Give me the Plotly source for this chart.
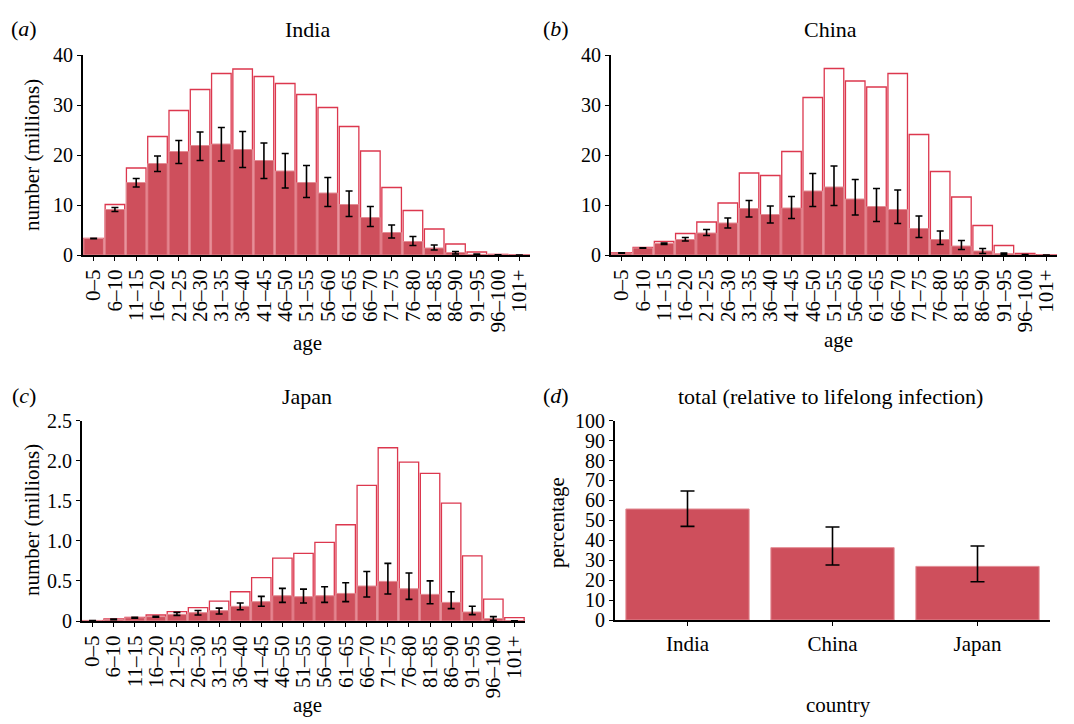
import plotly.graph_objects as go

ages = ["0–5", "6–10", "11–15", "16–20", "21–25", "26–30", "31–35", "36–40", "41–45",
        "46–50", "51–55", "56–60", "61–65", "66–70", "71–75", "76–80", "81–85", "86–90",
        "91–95", "96–100", "101+"]

# lifelong infection (outline bars), millions
india_life = [3.3, 10.1, 17.4, 23.7, 28.9, 33.1, 36.3, 37.2, 35.7, 34.3, 32.1, 29.5, 25.7,
              20.8, 13.5, 8.9, 5.2, 2.2, 0.6, 0.13, 0.03]
india_val = [3.3, 9.1, 14.5, 18.3, 20.7, 21.9, 22.2, 21.1, 18.9, 16.8, 14.5, 12.4, 10.1,
             7.5, 4.5, 2.7, 1.4, 0.5, 0.13, 0.03, 0.0]
india_hi = [3.35, 9.5, 15.3, 19.8, 22.9, 24.6, 25.5, 24.7, 22.4, 20.3, 17.9, 15.5, 12.8,
            9.7, 6.0, 3.7, 2.0, 0.7, 0.18, 0.04, 0.0]
india_lo = [3.25, 8.7, 13.6, 16.7, 18.3, 18.9, 18.8, 17.5, 15.3, 13.4, 11.5, 9.7, 7.7,
            5.7, 3.4, 1.9, 1.0, 0.2, 0.08, 0.02, 0.0]

china_life = [0.47, 1.5, 2.7, 4.3, 6.6, 10.4, 16.4, 15.9, 20.7, 31.5, 37.3, 34.8, 33.6,
              36.3, 24.1, 16.7, 11.6, 5.9, 1.9, 0.33, 0.05]
china_val = [0.4, 1.4, 2.3, 3.1, 4.4, 6.4, 9.3, 8.1, 9.4, 12.8, 13.6, 11.2, 9.7,
             9.1, 5.3, 3.1, 1.8, 0.8, 0.27, 0.05, 0.0]
china_hi = [0.45, 1.45, 2.4, 3.5, 5.1, 7.4, 10.9, 9.8, 11.7, 16.3, 17.8, 15.1, 13.3,
            13.0, 7.8, 4.8, 2.9, 1.3, 0.4, 0.07, 0.0]
china_lo = [0.35, 1.35, 2.1, 2.8, 3.9, 5.4, 7.6, 6.4, 7.3, 9.7, 9.9, 8.0, 6.7,
            6.3, 3.5, 2.1, 1.1, 0.3, 0.12, 0.03, 0.0]

japan_life = [0.005, 0.025, 0.045, 0.075, 0.116, 0.166, 0.249, 0.365, 0.54, 0.784, 0.842,
              0.98, 1.2, 1.69, 2.16, 1.98, 1.84, 1.47, 0.813, 0.274, 0.041]
japan_val = [0.004, 0.02, 0.04, 0.054, 0.083, 0.104, 0.129, 0.183, 0.241, 0.315, 0.303,
             0.315, 0.344, 0.436, 0.494, 0.402, 0.332, 0.232, 0.112, 0.029, 0.003]
japan_hi = [0.005, 0.025, 0.045, 0.06, 0.108, 0.13, 0.16, 0.224, 0.307, 0.407, 0.398,
            0.427, 0.477, 0.618, 0.718, 0.598, 0.50, 0.365, 0.183, 0.054, 0.004]
japan_lo = [0.003, 0.015, 0.035, 0.048, 0.07, 0.075, 0.087, 0.141, 0.183, 0.232, 0.224,
            0.232, 0.241, 0.299, 0.336, 0.27, 0.216, 0.154, 0.079, 0.008, 0.002]

countries = ["India", "China", "Japan"]
total_pct = [55.7, 36.3, 26.9]
total_hi = [64.7, 46.7, 37.1]
total_lo = [47.0, 27.6, 19.2]

FILL = "rgb(206,79,92)"
EDGE = "rgb(226,140,148)"
OUTLINE = "rgb(220,55,78)"
FONT = "Liberation Serif"

W, H = 1074, 724
OFF = 8  # page body margin


def px_x(x0, x1):
    return [(x0 - OFF) / W, (x1 - OFF) / W]


def px_y(top, bottom):
    return [1 - (bottom - OFF) / H, 1 - (top - OFF) / H]


fig = go.Figure()

panels = [
    ("x", "y", india_life, india_val, india_hi, india_lo),
    ("x2", "y2", china_life, china_val, china_hi, china_lo),
    ("x3", "y3", japan_life, japan_val, japan_hi, japan_lo),
]

for xa, ya, life, val, hi, lo in panels:
    fig.add_trace(go.Bar(x=ages, y=life, xaxis=xa, yaxis=ya, width=0.92,
                         marker=dict(color="white", line=dict(color=OUTLINE, width=1.3)),
                         showlegend=False, hoverinfo="skip"))
    fig.add_trace(go.Bar(x=ages, y=val, xaxis=xa, yaxis=ya, width=0.92,
                         marker=dict(color=FILL, line=dict(color=EDGE, width=1)),
                         error_y=dict(type="data", symmetric=False,
                                      array=[h - v for h, v in zip(hi, val)],
                                      arrayminus=[v - l for v, l in zip(val, lo)],
                                      color="black", thickness=1.6, width=3.5),
                         showlegend=False))

fig.add_trace(go.Bar(x=countries, y=total_pct, xaxis="x4", yaxis="y4", width=0.85,
                     marker=dict(color=FILL, line=dict(color=EDGE, width=1)),
                     error_y=dict(type="data", symmetric=False,
                                  array=[h - v for h, v in zip(total_hi, total_pct)],
                                  arrayminus=[v - l for v, l in zip(total_pct, total_lo)],
                                  color="black", thickness=1.6, width=7),
                     showlegend=False))

xcommon = dict(showline=True, linecolor="black", linewidth=2, ticks="outside", ticklen=4,
               tickcolor="black", showgrid=False, zeroline=False, automargin=False,
               tickfont=dict(family=FONT, size=21, color="black"))
ycommon = dict(showline=True, linecolor="black", linewidth=2, ticks="outside", ticklen=4,
               tickcolor="black", showgrid=False, zeroline=False, automargin=False,
               tickfont=dict(family=FONT, size=20, color="black"))

fig.update_layout(
    template="none",
    width=W, height=H, margin=dict(l=0, r=0, t=0, b=0), autosize=False,
    paper_bgcolor="white", plot_bgcolor="white",
    barmode="overlay",
    font=dict(family=FONT, color="black"),
    xaxis=dict(domain=px_x(83, 530), anchor="y", tickangle=-90, range=[-0.5, 20.5],
               tickmode="array", tickvals=ages, **xcommon),
    yaxis=dict(domain=px_y(55, 255), anchor="x", range=[0, 40], tickvals=[0, 10, 20, 30, 40], **ycommon),
    xaxis2=dict(domain=px_x(611, 1057), anchor="y2", tickangle=-90, range=[-0.5, 20.5],
                tickmode="array", tickvals=ages, **xcommon),
    yaxis2=dict(domain=px_y(55, 255), anchor="x2", range=[0, 40], tickvals=[0, 10, 20, 30, 40], **ycommon),
    xaxis3=dict(domain=px_x(82, 525), anchor="y3", tickangle=-90, range=[-0.5, 20.5],
                tickmode="array", tickvals=ages, **xcommon),
    yaxis3=dict(domain=px_y(420.5, 621), anchor="x3", range=[0, 2.5],
                tickvals=[0, 0.5, 1.0, 1.5, 2.0, 2.5],
                ticktext=["0", "0.5", "1.0", "1.5", "2.0", "2.5"], **ycommon),
    xaxis4=dict(domain=px_x(615, 1050), anchor="y4", range=[-0.5, 2.5], **xcommon),
    yaxis4=dict(domain=px_y(420.7, 620), anchor="x4", range=[0, 100], dtick=10, **ycommon),
)


def ann(text, x, y, size=22, angle=0):
    fig.add_annotation(text=text, x=(x - OFF) / W, y=1 - (y - OFF) / H, xref="paper", yref="paper",
                       showarrow=False, textangle=angle, xanchor="center", yanchor="middle",
                       font=dict(family=FONT, size=size, color="black"))


ann("India", 307, 30)
ann("China", 830, 30)
ann("Japan", 307, 396)
ann("total (relative to lifelong infection)", 830, 396)
ann("(<i>a</i>)", 24, 28)
ann("(<i>b</i>)", 556, 28)
ann("(<i>c</i>)", 24, 395)
ann("(<i>d</i>)", 556, 395)
ann("number (millions)", 32, 155, size=21, angle=-90)
ann("number (millions)", 32, 520, size=21, angle=-90)
ann("percentage", 557, 523, size=21, angle=-90)
ann("age", 307, 343, size=21)
ann("age", 838, 340, size=21)
ann("age", 307, 705, size=21)
ann("country", 838, 705, size=21)

fig.write_html("out.html")
